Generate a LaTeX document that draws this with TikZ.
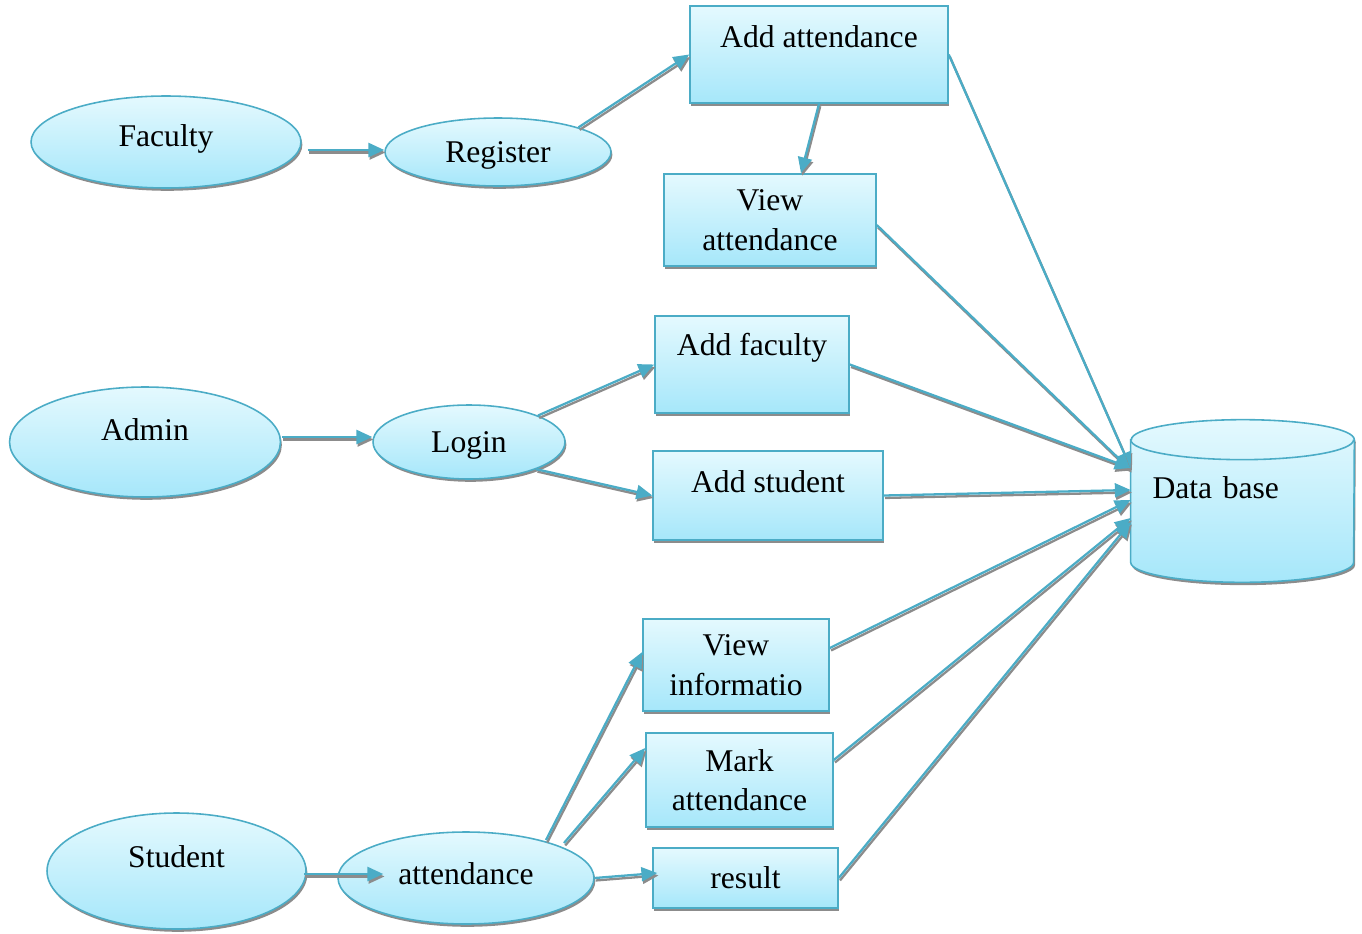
\documentclass[tikz,border=0pt]{standalone}
\usepackage{fontspec}
\setmainfont{Liberation Serif}
\usetikzlibrary{shapes.geometric,shadows,arrows.meta,calc,backgrounds}

\definecolor{edgeblue}{RGB}{75,172,198}
\definecolor{filltop}{RGB}{228,249,254}
\definecolor{fillbot}{RGB}{166,231,250}
\definecolor{shadowgray}{RGB}{140,140,140}

\tikzset{
  shade box/.style={draw=edgeblue, line width=0.9pt, top color=filltop, bottom color=fillbot,
    drop shadow={shadow xshift=0.8pt, shadow yshift=-1.6pt, fill=shadowgray, opacity=1},
    font=\fontsize{18}{22.5}\selectfont, inner sep=0pt},
  usecase/.style={shade box, ellipse},
  procbox/.style={shade box, rectangle, align=center},
  store/.style={font=\fontsize{18}{22.5}\selectfont, inner sep=0pt, text width=3.6cm, align=left},
  lift/.style={text height=0.45cm, text depth=#1},
  flow/.style={draw=edgeblue, line width=1.3pt, -{Triangle[length=9pt,width=8pt]},
    preaction={draw=shadowgray, line width=1.3pt, -{Triangle[length=9pt,width=8pt]},
      transform canvas={shift={(0.7pt,-1.4pt)}}}}
}

\begin{document}
\begin{tikzpicture}[x=0.02cm, y=-0.02cm]
  \useasboundingbox (0,0) rectangle (1362,933);

  % actors
  \node (fac) [usecase, lift=0.29cm, minimum width=5.4cm, minimum height=1.84cm] at (166,142) {Faculty};
  \node (admin) [usecase, lift=0.53cm, minimum width=5.42cm, minimum height=2.2cm] at (145,442) {Admin};
  \node (stu) [usecase, lift=0.61cm, minimum width=5.18cm, minimum height=2.32cm] at (176.5,871) {Student};

  % entry points
  \node (reg) [usecase, lift=0.05cm, minimum width=4.52cm, minimum height=1.36cm] at (498,152) {Register};
  \node (login) [usecase, lift=0.05cm, minimum width=3.84cm, minimum height=1.48cm] at (469,442) {Login};
  \node (att) [usecase, lift=0.21cm, minimum width=5.12cm, minimum height=1.84cm] at (466,878) {attendance};

  % tasks
  \node (addatt) [procbox, lift=0.75cm, minimum width=5.16cm, minimum height=1.94cm] at (819,54.5) {Add attendance};
  \node (viewatt) [procbox, minimum width=4.24cm, minimum height=1.84cm] at (770,220) {View\\attendance};
  \node (addfac) [procbox, lift=0.83cm, minimum width=3.88cm, minimum height=1.94cm] at (752,364.5) {Add faculty};
  \node (addstu) [procbox, lift=0.59cm, minimum width=4.6cm, minimum height=1.78cm] at (768,495.5) {Add student};
  \node (viewinf) [procbox, minimum width=3.72cm, minimum height=1.84cm] at (736,665) {View\\informatio};
  \node (mark) [procbox, minimum width=3.74cm, minimum height=1.88cm] at (739.5,780) {Mark\\attendance};
  \node (result) [procbox, minimum width=3.7cm, minimum height=1.2cm] at (745.5,878) {result};

  % storage
  \node (db) [store, lift=0.55cm, minimum width=4.46cm, minimum height=2.44cm] at (1242.5,501) {Data base};
  \begin{pgfonlayer}{background}
    \path [shade box] (db.north west) -- (db.south west)
      arc [start angle=180, end angle=360, x radius=2.23cm, y radius=0.4cm]
      -- (db.north east)
      arc [start angle=0, end angle=180, x radius=2.23cm, y radius=0.4cm] -- cycle;
    \draw [edgeblue, line width=0.9pt] (db.north west)
      arc [start angle=180, end angle=360, x radius=2.23cm, y radius=0.4cm];
  \end{pgfonlayer}

  % faculty side
  \draw [flow] ($(fac.east)+(6,8)$) -- ($(reg.west)+(0,-2)$);
  \draw [flow] (reg.17) -- (addatt.west);
  \draw [flow] (addatt.south) -- ($(viewatt.north)+(31,0)$);
  \draw [flow] (addatt.east) -- ($(db.west)+(0,-33)$);
  \draw [flow] ($(viewatt.east)+(0,5)$) -- ($(db.west)+(0,-31)$);

  % admin side
  \draw [flow] ($(admin.east)+(1,-5)$) -- ($(login.west)+(0,-5)$);
  \draw [flow] (login.21) -- (addfac.west);
  \draw [flow] (login.-22) -- (addstu.west);
  \draw [flow] (addfac.east) -- ($(db.west)+(0,-33)$);
  \draw [flow] (addstu.east) -- ($(db.west)+(0,-11)$);

  % student side
  \draw [flow] ($(stu.east)+(-3,3)$) -- ($(att.west)+(46,-4)$);
  \draw [flow] ($(att.center)+(80,-38)$) -- ($(viewinf.west)+(0,-13)$);
  \draw [flow] ($(att.center)+(98,-35)$) -- ($(mark.west)+(0,-32)$);
  \draw [flow] (att.east) -- ($(result.west)+(5,-5)$);
  \draw [flow] ($(viewinf.east)+(0,-17)$) -- ($(db.west)+(0,-1)$);
  \draw [flow] ($(mark.east)+(0,-20)$) -- ($(db.west)+(0,17)$);
  \draw [flow] (result.east) -- ($(db.west)+(0,21)$);
\end{tikzpicture}
\end{document}
